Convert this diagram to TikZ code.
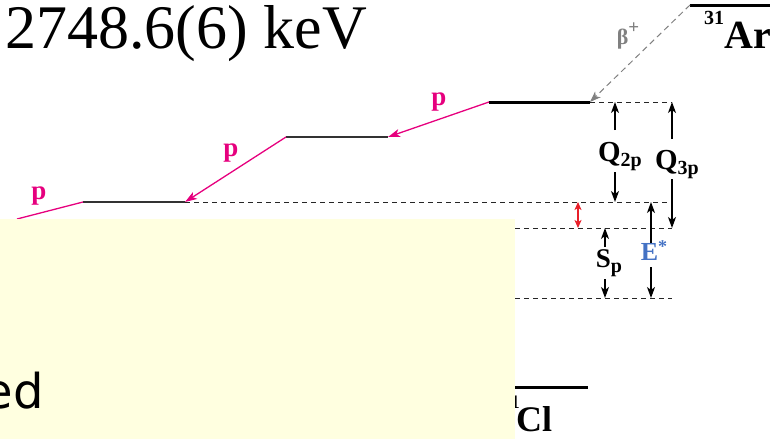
\documentclass[tikz,border=0pt]{standalone}
\usepackage{fontspec}
\setmainfont{Liberation Serif}
\newfontfamily\dejavu{DejaVu Sans}
\usetikzlibrary{arrows.meta}
\definecolor{magp}{RGB}{230,0,126}
\definecolor{redar}{RGB}{232,32,42}
\definecolor{bluee}{RGB}{68,114,196}
\definecolor{grayb}{RGB}{128,128,128}
\definecolor{boxy}{RGB}{255,255,224}
\newcommand{\lowsub}[1]{\raisebox{-5pt}{\fontsize{20}{20}\selectfont #1}}
\newcommand{\highsup}[1]{\raisebox{11pt}{\fontsize{19}{19}\selectfont #1}}
\begin{document}
\begin{tikzpicture}[x=1pt,y=-1pt,
  lvl/.style={line width=3pt,draw=black},
  lvlthin/.style={line width=1.8pt,draw=black!80},
  dline/.style={dash pattern=on 5pt off 4pt,line width=0.9pt,draw=black!85},
  parr/.style={draw=magp,line width=1.3pt,-{Stealth[length=12pt,width=8pt,inset=3pt]}},
  pline/.style={draw=magp,line width=1.3pt},
  varr/.style={line width=1.2pt,-{Stealth[length=11pt,width=8pt,inset=3pt]}},
  rarr/.style={draw=redar,line width=1.2pt,{Stealth[length=8pt,width=7pt,inset=2pt]}-{Stealth[length=8pt,width=7pt,inset=2pt]}},
  barr/.style={draw=grayb,dash pattern=on 6pt off 4pt,line width=1pt,-{Stealth[length=11pt,width=8pt,inset=3pt]}},
  lab/.style={font=\fontsize{29}{29}\selectfont\bfseries,inner sep=0pt},
  plab/.style={font=\fontsize{27}{27}\selectfont\bfseries,text=magp,inner sep=0pt},
]
\useasboundingbox (0,0) rectangle (770,439);
% coordinates of levels
\coordinate (ArL) at (690,5);  \coordinate (ArR) at (772,5);
\coordinate (L1a) at (489,102); \coordinate (L1b) at (590,102); \coordinate (L1e) at (672,102);
\coordinate (L2a) at (286,137); \coordinate (L2b) at (388,137);
\coordinate (L3a) at (83,202);  \coordinate (L3b) at (185,202); \coordinate (L3e) at (672,202);
\coordinate (L4s) at (515,228); \coordinate (L4e) at (672,228);
\coordinate (L5s) at (515,298); \coordinate (L5e) at (672,298);
\coordinate (ClL) at (515,387); \coordinate (ClR) at (588,387);
\coordinate (pend) at (17,219);

% title
\node[anchor=base west,inner sep=0pt,font=\fontsize{62}{62}\selectfont] (title) at (5,48) {2748.6(6) keV};

% 31Ar
\draw[lvl] (ArL) -- (ArR);
\node[anchor=base west,inner sep=0pt,font=\fontsize{20}{20}\selectfont\bfseries] (arsup) at (704,24) {31};
\node[anchor=base west,inner sep=0pt,font=\fontsize{40}{40}\selectfont\bfseries] (ar) at (724,48) {Ar};

% beta
\draw[barr] (ArL) -- (L1b);
\node[text=grayb,inner sep=0pt,font=\fontsize{22}{22}\selectfont\bfseries] (beta) at (628,36) {β\highsup{+}};

% levels
\draw[lvl] (L1a) -- (L1b);
\draw[lvlthin] (L2a) -- (L2b);
\draw[lvlthin] (L3a) -- (L3b);
\draw[dline] (L1b) -- (L1e);
\draw[dline] (L3b) -- (L3e);
\draw[dline] (L4s) -- (L4e);
\draw[dline] (L5s) -- (L5e);

% protons
\draw[parr] (L1a) -- (L2b);
\draw[parr] (L2a) -- (L3b);
\draw[pline] (L3a) -- (pend);
\node[plab] (p1) at (439,102) {p};
\node[plab] (p2) at (231,153) {p};
\node[plab] (p3) at (39,196) {p};

% Q2p
\node[lab] (q2) at (620,157) {Q\lowsub{2p}};
\coordinate (q2u) at (615,130); \coordinate (q2d) at (615,172);
\draw[varr] (q2u) -- (q2u |- L1b);
\draw[varr] (q2d) -- (q2d |- L3b);
% Q3p
\node[lab] (q3) at (677,165) {Q\lowsub{3p}};
\coordinate (q3u) at (672,139); \coordinate (q3d) at (672,179);
\draw[varr] (q3u) -- (q3u |- L1b);
\draw[varr] (q3d) -- (q3d |- L4s);
% red
\coordinate (rt) at (578,202); \coordinate (rb) at (578,228);
\draw[rarr] (rt) -- (rb);
% Sp
\node[lab,font=\fontsize{27}{27}\selectfont\bfseries] (sp) at (609,263) {S\lowsub{p}};
\coordinate (spu) at (605,247); \coordinate (spd) at (605,279);
\draw[varr] (spu) -- (spu |- L4s);
\draw[varr] (spd) -- (spd |- L5s);
% E*
\node[lab,text=bluee,font=\fontsize{26}{26}\selectfont\bfseries] (es) at (654,251) {E\raisebox{8pt}{\fontsize{18}{18}\selectfont *}};
\coordinate (esu) at (651,243); \coordinate (esd) at (651,267);
\draw[varr] (esu) -- (esu |- L3b);
\draw[varr] (esd) -- (esd |- L5s);

% Cl
\draw[lvl] (ClL) -- (ClR);
\node[anchor=base east,inner sep=0pt,font=\fontsize{19}{19}\selectfont\bfseries] (clsup) at (520,408) {31};
\node[anchor=base west,inner sep=0pt,font=\fontsize{36}{36}\selectfont\bfseries] (cl) at (516,431) {Cl};

% yellow box
\fill[boxy] (0,219) rectangle (515,439);
\node[anchor=base east,inner sep=0pt,font=\dejavu\fontsize{48}{48}\selectfont] (ed) at (44,408) {ed};
\end{tikzpicture}
\end{document}
